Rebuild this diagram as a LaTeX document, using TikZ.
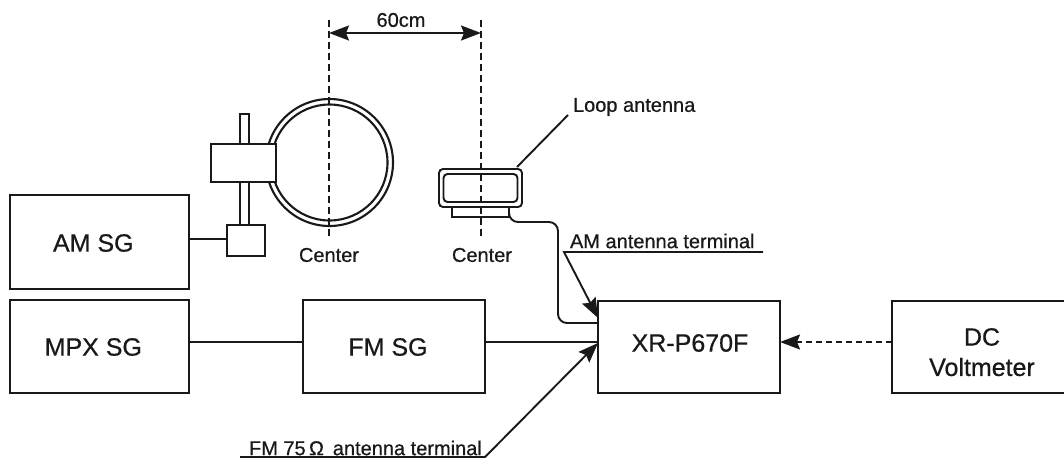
\documentclass[tikz,border=0pt]{standalone}
\usepackage{fontspec}
\setmainfont[FakeBold=0.6]{Liberation Sans}
\usetikzlibrary{arrows.meta,calc}
\tikzset{
  ln/.style={line width=1.9pt,black!90},
  blockbox/.style={draw=black!90,line width=2pt,fill=white,inner sep=0pt,outer sep=0pt},
  blocktext/.style={inner sep=0pt,outer sep=0pt,font=\fontsize{25}{30}\selectfont,text=black!90},
  partbox/.style={draw=black!90,line width=1.9pt,fill=white,inner sep=0pt,outer sep=0pt},
  ring/.style={draw=black!90,line width=2.1pt,circle,inner sep=0pt,outer sep=0pt},
  lab/.style={inner sep=0pt,outer sep=0pt,font=\fontsize{20}{24}\selectfont,text=black!90},
  centerline/.style={ln,dash pattern=on 6.5pt off 4.5pt},
  bighead/.tip={Stealth[length=20pt,width=15pt,inset=3pt]},
  bigtip/.style={-bighead},
}
\begin{document}
\begin{tikzpicture}[x=1pt,y=-1pt]
\useasboundingbox (0,0) rectangle (1064,458);
% blocks
\node[blockbox,minimum width=179pt,minimum height=94pt] (am) at (99.5,242) {};
\node[blockbox,minimum width=179pt,minimum height=93pt] (mpx) at (99.5,346.5) {};
\node[blockbox,minimum width=182pt,minimum height=93pt] (fm) at (394,346.5) {};
\node[blockbox,minimum width=182pt,minimum height=92pt] (xr) at (689,347) {};
\node[blockbox,minimum width=182pt,minimum height=92pt] (dc) at (983,347) {};
\node[blocktext] (amt) at (93.3,243) {AM SG};
\node[blocktext] (mpxt) at (93.3,347) {MPX SG};
\node[blocktext] (fmt) at (388,347) {FM SG};
\node[blocktext] (xrt) at (690,343) {XR-P670F};
\node[blocktext] (dct) at (982,337) {DC};
\node[blocktext] (dct2) at (982,367) {Voltmeter};
% big loop
\node[ring,minimum size=127pt] (ringout) at (329.5,162.5) {};
\node[ring,minimum size=116pt] (ringin) at (329.5,162.5) {};
\node[partbox,minimum width=9pt,minimum height=111pt] (pole) at (244.5,169.5) {};
\node[partbox,minimum width=65pt,minimum height=38pt] (clamp) at (243.5,163) {};
\node[partbox,minimum width=38pt,minimum height=31pt] (foot) at (246,240.5) {};
\draw[ln] (foot.west|-0,239) -- (am.east|-0,239);
% small loop
\node[partbox,minimum width=57pt,minimum height=10pt] (base) at (480.5,212) {};
\node[partbox,rounded corners=4pt,minimum width=83pt,minimum height=38pt] (loopout) at (480.5,188) {};
\node[partbox,rounded corners=4pt,minimum width=74pt,minimum height=28pt] (loopin) at (480.5,188) {};
% centre lines
\coordinate (ct1) at (329,20);
\coordinate (cb1) at (329,240);
\coordinate (ct2) at (481,20);
\coordinate (cb2) at (481,240);
\coordinate (da1) at (329,33);
\coordinate (da2) at (481,33);
\draw[centerline] (ct1) -- (cb1);
\draw[centerline] (ct2) -- (cb2);
\draw[ln,bighead-bighead] (da1) -- (da2);
\node[lab] (dist) at (401,20) {60cm};
\node[lab] (c1) at (329,255) {Center};
\node[lab] (c2) at (482,255) {Center};
% connectors
\draw[ln] (mpx.east|-0,342) -- (fm.west|-0,342);
\draw[ln] (fm.east|-0,342) -- (xr.west|-0,342);
\draw[ln,rounded corners=9pt] (base.south east) -- (509,222) -- (558,222) -- (558,323) -- (xr.west|-0,323);
\draw[ln,dash pattern=on 6pt off 4pt,-bighead] (dc.west|-0,342) -- (xr.east|-0,342);
% labels
\node[lab,anchor=west] (loopl) at (573,107) {Loop antenna};
\coordinate (ll) at (568,115);
\draw[ln] (ll) -- (517,167);
\node[lab,anchor=west] (aml) at (570,241) {AM antenna terminal};
\coordinate (au1) at (763,252);
\coordinate (au2) at (564,252);
\draw[ln,bigtip] (au1) -- (au2) -- (xr.west|-0,318);
\node[lab,anchor=west] (fml) at (249,448) {FM 75\,Ω\, antenna terminal};
\coordinate (fu1) at (240,457);
\coordinate (fu2) at (485,457);
\draw[ln,bigtip] (fu1) -- (fu2) -- (xr.west|-0,343);
\end{tikzpicture}
\end{document}
